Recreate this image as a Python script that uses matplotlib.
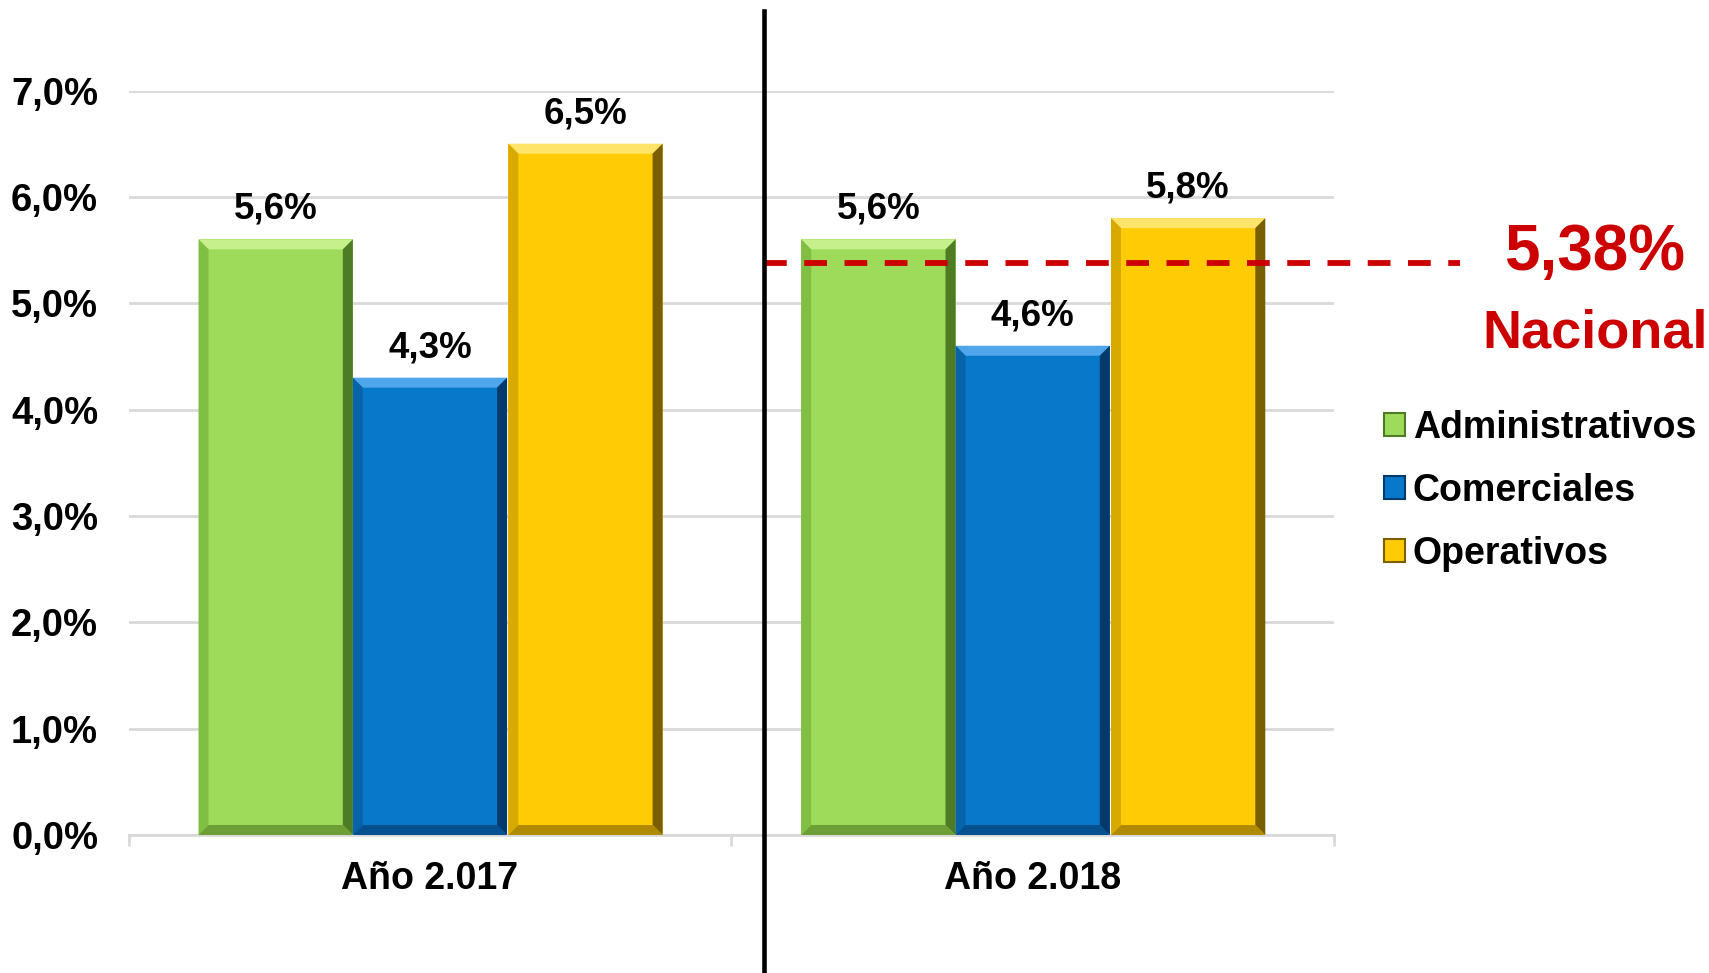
import matplotlib
matplotlib.use("Agg")
import matplotlib.pyplot as plt
from matplotlib.patches import Polygon, Rectangle
from matplotlib.lines import Line2D
import numpy as np

plt.rcParams['font.family'] = ['Liberation Sans', 'DejaVu Sans']
plt.rcParams['font.weight'] = 'bold'

# ---- data ----
categories = ['Año 2.017', 'Año 2.018']
series_names = ['Administrativos', 'Comerciales', 'Operativos']
administrativos = [5.6, 5.6]
comerciales = [4.3, 4.6]
operativos = [6.5, 5.8]
nacional = 5.38
nacional_label = '5,38%'
nacional_text = 'Nacional'
yticks = [0, 1, 2, 3, 4, 5, 6, 7]

series_values = [administrativos, comerciales, operativos]
main_colors = ['#9EDB5A', '#0878CB', '#FFCB05']
top_colors = ['#C6F08C', '#4FA6EA', '#FFE46A']
right_colors = ['#4E7C24', '#033A6E', '#7A5F00']
left_colors = ['#80BF44', '#0863A8', '#D8AA00']
bottom_colors = ['#6E9E36', '#05508E', '#B08A00']

W, H = 1709, 973
fig = plt.figure(figsize=(W / 100, H / 100), dpi=100)
ax_l, ax_r = 128.6 / W, 1334 / W
ax_b, ax_t = 1 - 835 / H, 1 - 90.5 / H
ax = fig.add_axes([ax_l, ax_b, ax_r - ax_l, ax_t - ax_b])
ax.set_xlim(-0.5, 1.5)
ax.set_ylim(0, 7)

# gridlines
ax.set_yticks(yticks)
ax.set_yticklabels([f"{v:.1f}%".replace('.', ',') for v in yticks])
ax.yaxis.grid(True, color='#D9D9D9', linewidth=2)
ax.set_axisbelow(True)
ax.tick_params(axis='y', length=0, pad=22, labelsize=27.5)

for s in ['top', 'right', 'left']:
    ax.spines[s].set_visible(False)
ax.spines['bottom'].set_color('#D9D9D9')
ax.spines['bottom'].set_linewidth(2)

x = np.arange(len(categories))
ax.set_xticks(x)
ax.set_xticklabels(categories)
ax.set_xticks([-0.5, 0.5, 1.5], minor=True)
ax.tick_params(axis='x', which='major', length=0, pad=19, labelsize=27)
ax.tick_params(axis='x', which='minor', length=8, width=2, color='#D9D9D9')

width = 0.256
offsets = [-0.256, 0.0, 0.258]

# pixel sizes in data units
ax_w_px = (ax_r - ax_l) * W
ax_h_px = (ax_t - ax_b) * H
dxp = 2.0 / ax_w_px
dyp = 7.0 / ax_h_px
bev_x = 10 * dxp
bev_y = 10 * dyp

handles = []
for i, (name, vals) in enumerate(zip(series_names, series_values)):
    bars = ax.bar(x + offsets[i], vals, width, color=main_colors[i],
                  edgecolor='none', zorder=2, label=name)
    for b, v in zip(bars, vals):
        x0 = b.get_x(); x1 = x0 + b.get_width(); y1 = b.get_height(); y0 = 0
        ax.add_patch(Polygon([[x0, y1], [x1, y1], [x1 - bev_x, y1 - bev_y], [x0 + bev_x, y1 - bev_y]],
                             closed=True, color=top_colors[i], zorder=3, lw=0))
        ax.add_patch(Polygon([[x1, y1], [x1, y0], [x1 - bev_x, y0 + bev_y], [x1 - bev_x, y1 - bev_y]],
                             closed=True, color=right_colors[i], zorder=3, lw=0))
        ax.add_patch(Polygon([[x0, y1], [x0, y0], [x0 + bev_x, y0 + bev_y], [x0 + bev_x, y1 - bev_y]],
                             closed=True, color=left_colors[i], zorder=3, lw=0))
        ax.add_patch(Polygon([[x0, y0], [x1, y0], [x1 - bev_x, y0 + bev_y], [x0 + bev_x, y0 + bev_y]],
                             closed=True, color=bottom_colors[i], zorder=3, lw=0))
        ax.annotate(f"{v:.1f}%".replace('.', ','), (b.get_x() + b.get_width() / 2, v),
                    xytext=(0, 9), textcoords='offset points', ha='center', va='bottom',
                    fontsize=26.5, fontweight='bold', color='black')
    handles.append(Rectangle((0, 0), 1, 1, facecolor=main_colors[i],
                             edgecolor=right_colors[i], linewidth=1.5))

# separator vertical line (figure coords)
sep_x = 764 / W
fig.add_artist(Line2D([sep_x, sep_x], [0, 1 - 11 / H], color='black', linewidth=3.3))

# national dashed line
ax.plot([0.554, 1.709], [nacional, nacional], color='#CC0000', linewidth=4.2,
        linestyle=(0, (3.9, 3.0)), clip_on=False, zorder=4)
fig.text(1595 / W, 1 - 253 / H, nacional_label, color='#CC0000', fontsize=46,
         fontweight='bold', ha='center', va='center')
fig.text(1595 / W, 1 - 333 / H, nacional_text, color='#CC0000', fontsize=39,
         fontweight='bold', ha='center', va='center')

leg = fig.legend(handles, series_names, loc='center left',
                 bbox_to_anchor=(1384 / W, 1 - 491 / H), frameon=False,
                 fontsize=27, handlelength=0.55, handleheight=0.55,
                 handletextpad=0.22, labelspacing=0.72, borderpad=0, borderaxespad=0)
for t in leg.get_texts():
    t.set_fontweight('bold')

fig.savefig('out.png', dpi=100)
